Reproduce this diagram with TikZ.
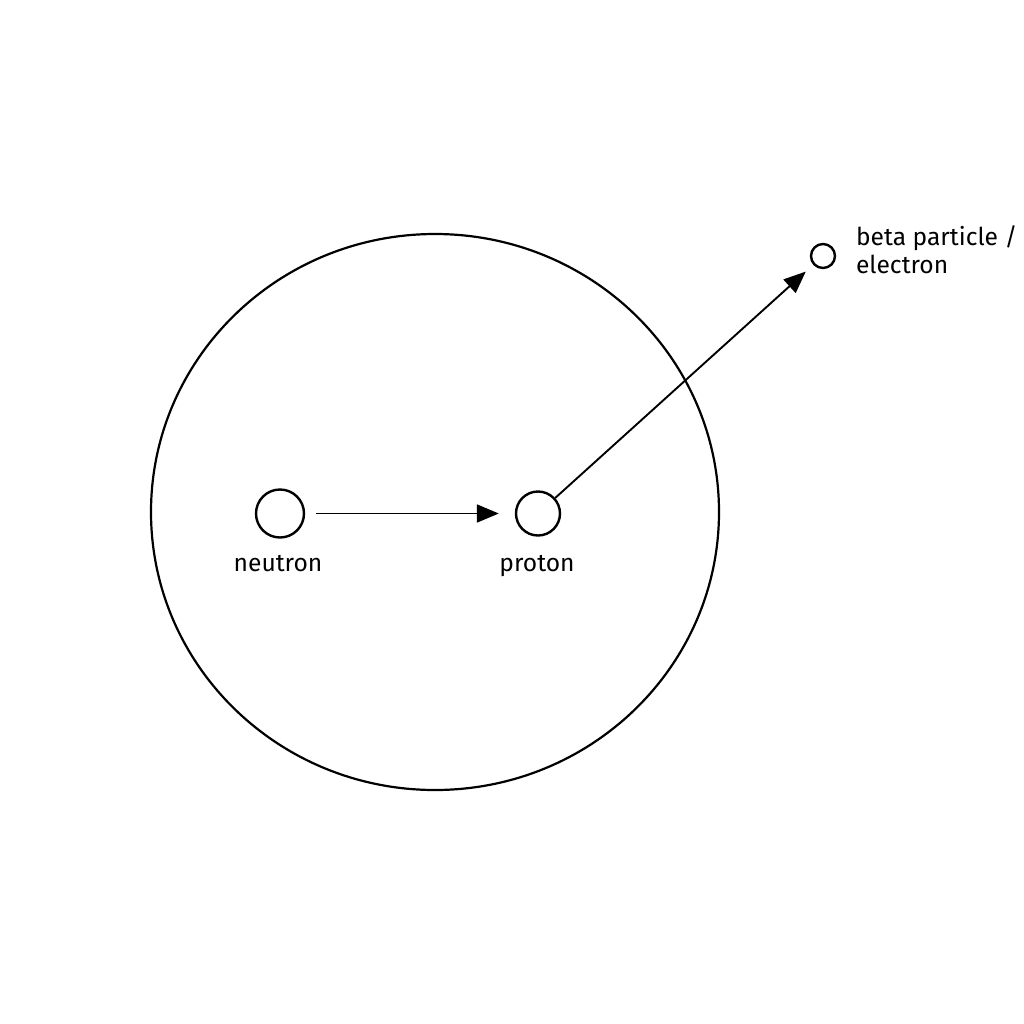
\documentclass[tikz,border=0pt]{standalone}
\usepackage{fontspec}
\setmainfont{Fira Sans}
\usetikzlibrary{arrows.meta}
\begin{document}
\begin{tikzpicture}[x=0.5pt,y=-0.5pt,
  particle/.style={circle,draw,line width=1.2pt,inner sep=0pt},
  lbl/.style={font=\fontsize{12.3}{14}\selectfont},
  conn/.style={line width=0.95pt,-{Triangle[length=11pt,width=9pt]}}]
\useasboundingbox (0,0) rectangle (1024,1024);
\draw[line width=1.1pt] (435,512) ellipse [x radius=284, y radius=278];
\node[particle,minimum size=24pt] (n) at (280,513.5) {};
\node[particle,minimum size=22pt] (p) at (538,513.5) {};
\node[particle,minimum size=12pt] (e) at (823,256) {};
\node[lbl,anchor=base] (nl) at (278,571) {neutron};
\node[lbl,anchor=base] (pl) at (537,571) {proton};
\node[lbl,anchor=west,align=left] (el) at (849,250) {beta particle /\\electron};
\draw[conn,shorten <=5.5pt,shorten >=8pt] (n) -- (p);
\draw[conn,shorten >=5pt] (p) -- (e);
\end{tikzpicture}
\end{document}
